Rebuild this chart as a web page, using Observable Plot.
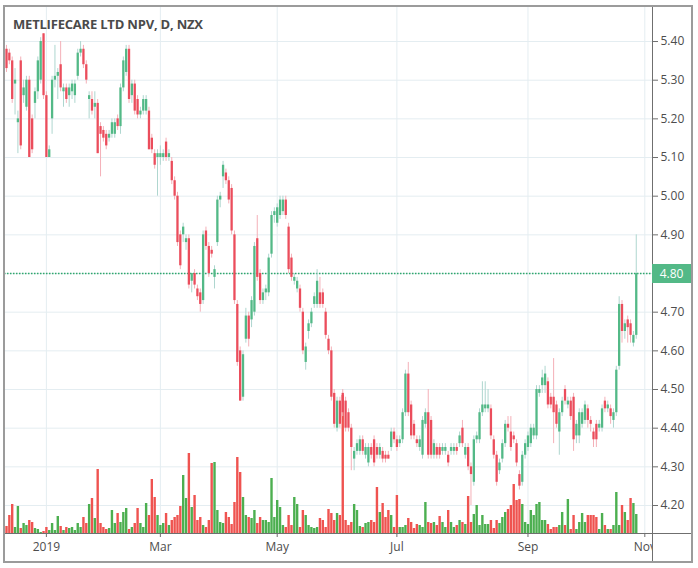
<!DOCTYPE html>
<html><head><meta charset="utf-8">
<script src="https://cdn.jsdelivr.net/npm/d3@7"></script>
<script src="https://cdn.jsdelivr.net/npm/@observablehq/plot@0.6"></script>
<style>
body{margin:0;background:#fff;}
#wrap{position:relative;width:698px;height:568px;overflow:hidden;font-family:"Open Sans",sans-serif;background:#fff;}
.layer{position:absolute;left:0;top:0;}
#title{position:absolute;left:13px;top:15px;font-weight:700;font-size:13px;color:#4a4a4a;letter-spacing:-0.2px;white-space:nowrap;}
#frame{position:absolute;left:3px;top:5px;width:686px;height:554px;border:2px solid #9b9b9b;}
#vline{position:absolute;left:652px;top:6px;width:1px;height:556px;background:#6f6f6f;}
#hline{position:absolute;left:4px;top:533px;width:688px;height:1px;background:#6f6f6f;}
#cover{position:absolute;left:653px;top:534px;width:37px;height:26px;background:#fff;}
#last{position:absolute;left:652px;width:39px;height:19px;background:#53b987;color:#fff;font-size:12px;line-height:19px;text-align:center;}
</style></head>
<body>
<div id="wrap"></div>
<script>
// OHLC per trading day (mid-Dec 2018 .. end Oct 2019), NZD
const open = [5.38,5.37,5.35,5.29,5.19,5.35,5.26,5.23,5.30,5.20, 5.24,5.27,5.30,5.42,5.26,5.10,5.20,5.30,5.31,5.34, 5.27,5.28,5.26,5.27,5.26,5.31,5.37,5.38,5.34,5.25, 5.25,5.23,5.24,5.18,5.17,5.16,5.15,5.16,5.16,5.20, 5.18,5.28,5.32,5.38,5.26,5.29,5.25,5.21,5.22,5.22, 5.22,5.15,5.11,5.10,5.10,5.10,5.14,5.10,5.09,5.04, 5.00,4.90,4.90,4.88,4.89,4.78,4.80,4.76,4.75,4.73, 4.91,4.87,4.86,4.79,4.88,4.99,5.05,5.06,5.04,5.02, 4.90,4.72,4.60,4.48,4.63,4.69,4.68,4.70,4.89,4.80, 4.73,4.75,4.75,4.85,4.95,4.93,4.95,4.96,4.99,4.92, 4.84,4.78,4.76,4.76,4.70,4.57,4.65,4.67,4.72,4.72, 4.75,4.75,4.70,4.63,4.60,4.49,4.40,4.47,4.49,4.47, 4.44,4.40,4.32,4.34,4.34,4.37,4.33,4.31,4.35,4.37, 4.35,4.33,4.34,4.33,4.33,4.35,4.39,4.37, 4.36,4.37,4.44,4.54,4.46,4.41,4.37,4.35,4.33,4.41, 4.44,4.42,4.33,4.35,4.35,4.34,4.34,4.33,4.34, 4.34,4.35,4.36,4.40,4.33,4.35,4.30,4.26,4.37,4.37, 4.44,4.45,4.45,4.45,4.37,4.33,4.29,4.32,4.36,4.41, 4.39,4.38,4.36,4.28,4.26,4.33,4.35,4.36,4.38, 4.38,4.49, 4.51,4.51,4.52,4.48,4.48,4.46,4.39,4.44,4.50,4.46, 4.47,4.48,4.38,4.38,4.41,4.42,4.45,4.42,4.39,4.41, 4.40,4.40,4.47,4.45,4.45,4.42,4.44,4.56,4.72,4.65, 4.68,4.67,4.62,4.64];
const high = [5.39,5.38,5.36,5.33,5.22,5.36,5.30,5.31,5.31,5.21, 5.28,5.36,5.41,5.42,5.27,5.13,5.31,5.39,5.33,5.40, 5.29,5.29,5.29,5.30,5.30,5.38,5.40,5.39,5.35,5.27, 5.27,5.27,5.25,5.19,5.18,5.17,5.17,5.20,5.20,5.21, 5.29,5.36,5.39,5.39,5.30,5.30,5.26,5.23,5.26,5.26, 5.23,5.16,5.12,5.12,5.13,5.12,5.15,5.12,5.10,5.05, 5.01,4.91,4.93,4.90,4.90,4.80,4.81,4.77,4.76,4.91, 4.92,4.88,4.87,4.82,5.00,5.01,5.09,5.07,5.05,5.03, 4.91,4.73,4.61,4.60,4.71,4.70,4.74,4.88,4.95,4.81, 4.76,4.77,4.85,4.96,4.97,4.98,5.00,5.00,5.00,4.93, 4.85,4.80,4.79,4.77,4.71,4.62,4.68,4.71,4.75,4.81, 4.79,4.76,4.71,4.64,4.61,4.50,4.48,4.48,4.50,4.48, 4.45,4.41,4.35,4.37,4.38,4.38,4.36,4.36,4.36,4.38, 4.36,4.36,4.35,4.34,4.34,4.40,4.40,4.38, 4.38,4.45,4.55,4.57,4.47,4.42,4.38,4.38,4.43,4.45, 4.50,4.43,4.37,4.36,4.36,4.36,4.36,4.34,4.36, 4.36,4.36,4.39,4.42,4.36,4.36,4.31,4.38,4.39,4.45, 4.52,4.52,4.50,4.46,4.38,4.34,4.32,4.37,4.42,4.43, 4.43,4.39,4.37,4.29,4.34,4.37,4.39,4.41,4.41, 4.51,4.51, 4.55,4.56,4.53,4.49,4.58,4.47,4.45,4.48,4.51,4.48, 4.48,4.49,4.42,4.45,4.45,4.47,4.46,4.43,4.40,4.42, 4.42,4.46,4.48,4.47,4.46,4.45,4.56,4.74,4.73,4.68, 4.69,4.68,4.65,4.90];
const low = [5.32,5.34,5.24,5.21,5.11,5.12,5.24,5.22,5.10,5.11, 5.20,5.25,5.29,5.25,5.10,5.10,5.16,5.28,5.25,5.27, 5.23,5.24,5.23,5.25,5.24,5.30,5.36,5.33,5.29,5.20, 5.21,5.20,5.11,5.05,5.14,5.12,5.14,5.15,5.15,5.17, 5.16,5.27,5.31,5.24,5.24,5.21,5.20,5.20,5.21,5.21, 5.12,5.11,5.07,5.00,5.08,5.09,5.09,5.09,5.03,4.99, 4.87,4.81,4.88,4.86,4.76,4.75,4.76,4.73,4.70,4.72, 4.86,4.79,4.84,4.76,4.87,4.97,5.02,5.03,4.98,4.90, 4.72,4.56,4.47,4.47,4.62,4.61,4.66,4.69,4.78,4.72, 4.72,4.73,4.74,4.84,4.93,4.92,4.94,4.95,4.94,4.80, 4.78,4.77,4.75,4.70,4.59,4.55,4.63,4.66,4.71,4.71, 4.71,4.71,4.63,4.59,4.47,4.40,4.39,4.40,4.43,4.39, 4.39,4.29,4.29,4.33,4.33,4.33,4.32,4.30,4.32,4.30, 4.32,4.32,4.31,4.31,4.32,4.34,4.36,4.34, 4.35,4.36,4.43,4.43,4.37,4.37,4.35,4.34,4.32,4.40, 4.32,4.32,4.32,4.32,4.32,4.33,4.33,4.30,4.33, 4.33,4.33,4.35,4.35,4.32,4.29,4.20,4.25,4.36,4.36, 4.43,4.44,4.44,4.37,4.32,4.25,4.28,4.31,4.35,4.39, 4.34,4.36,4.30,4.24,4.25,4.32,4.34,4.35,4.37, 4.37,4.48, 4.49,4.49,4.45,4.45,4.36,4.40,4.33,4.43,4.46,4.45, 4.42,4.34,4.36,4.36,4.40,4.41,4.40,4.39,4.35,4.35, 4.39,4.39,4.44,4.44,4.41,4.40,4.43,4.55,4.62,4.63, 4.62,4.62,4.61,4.63];
const close = [5.33,5.35,5.25,5.30,5.20,5.13,5.28,5.30,5.10,5.12, 5.27,5.35,5.40,5.26,5.10,5.12,5.30,5.31,5.32,5.28, 5.28,5.25,5.28,5.29,5.29,5.37,5.38,5.34,5.30,5.26, 5.22,5.24,5.11,5.16,5.15,5.13,5.16,5.19,5.19,5.18, 5.28,5.35,5.38,5.25,5.29,5.22,5.21,5.22,5.25,5.25, 5.12,5.12,5.08,5.11,5.11,5.11,5.10,5.11,5.04,5.00, 4.88,4.82,4.92,4.89,4.77,4.80,4.77,4.74,4.72,4.90, 4.87,4.80,4.85,4.81,4.99,5.00,5.08,5.04,4.99,4.91, 4.73,4.57,4.47,4.59,4.69,4.63,4.73,4.87,4.79,4.73, 4.75,4.76,4.84,4.95,4.96,4.97,4.99,4.99,4.95,4.81, 4.79,4.79,4.78,4.71,4.60,4.61,4.67,4.70,4.74,4.78, 4.72,4.72,4.64,4.60,4.48,4.41,4.47,4.41,4.44,4.40, 4.40,4.35,4.34,4.36,4.37,4.34,4.35,4.35,4.33,4.31, 4.33,4.35,4.32,4.32,4.32,4.39,4.37,4.35, 4.37,4.44,4.54,4.44,4.38,4.38,4.36,4.37,4.42,4.44, 4.33,4.33,4.36,4.33,4.33,4.35,4.35,4.31,4.35, 4.35,4.34,4.38,4.36,4.35,4.30,4.28,4.37,4.38,4.44, 4.46,4.46,4.46,4.38,4.33,4.26,4.31,4.36,4.41,4.40, 4.35,4.37,4.31,4.25,4.33,4.36,4.38,4.40,4.40, 4.50,4.50, 4.53,4.54,4.46,4.46,4.44,4.41,4.44,4.47,4.47,4.47, 4.43,4.37,4.41,4.44,4.44,4.46,4.42,4.41,4.37,4.37, 4.41,4.45,4.45,4.46,4.43,4.44,4.55,4.72,4.65,4.67, 4.66,4.64,4.64,4.80];
// daily volume (thousands of shares, estimated)
const volume = [7,18,29,6,27,5,10,8,13,11,5,4,1,2,6,3,10,3,17,7,3,6,5,6,3,10,6,16,10,29,35,15,64,10,6,4,5,23,10,20,11,21,25,4,6,10,25,10,6,30,18,54,36,18,8,10,20,8,13,16,18,27,58,35,80,26,38,13,16,8,6,13,70,71,23,11,10,21,16,9,31,76,61,
 36,18,16,15,23,10,16,13,13,11,55,16,33,26,8,6,18,8,36,29,6,23,18,8,6,5,6,15,13,6,24,20,13,20,18,138,13,8,11,29,23,7,6,10,11,13,11,46,21,30,16,23,18,6,38,6,6,8,15,11,5,9,8,6,31,11,10,11,8,
 17,11,6,23,11,6,8,13,11,9,37,11,19,28,8,18,9,9,13,5,13,10,16,21,24,28,49,33,34,29,11,9,23,18,29,31,
 13,13,9,4,6,6,8,21,8,34,4,18,4,11,20,11,18,18,18,16,4,20,8,4,4,8,41,8,28,21,13,35,30,19];
// time axis: bar positions of month starts and their labels
const tickIdx = [14, 54, 95, 137, 183, 224];
const tickLabels = ["2019", "Mar", "May", "Jul", "Sep", "Nov"];
const priceTicks = [4.2, 4.3, 4.4, 4.5, 4.6, 4.7, 4.8, 4.9, 5.0, 5.1, 5.2, 5.3, 5.4];

const UP = "#53b987", DOWN = "#eb4d5c";
const WICK_UP = "#aed6cf", WICK_DOWN = "#f4b0b8";
const VOL_UP = "#4caf50", VOL_DOWN = "#ef5350";

const bars = open.map((o, i) => ({i, open: o, high: high[i], low: low[i], close: close[i], volume: volume[i], up: close[i] >= o}));
const lastClose = close[close.length - 1];

const base = {
  width: 698, height: 568,
  marginLeft: 4, marginRight: 46, marginTop: 7, marginBottom: 35,
  x: {domain: [-0.70, 226.7], axis: null},
  color: {type: "identity"},
  style: {background: "transparent", fontFamily: "Open Sans, sans-serif", fontSize: "12px", color: "#4d4d4d", overflow: "visible"}
};

const gridChart = Plot.plot({
  ...base,
  y: {domain: [4.1276, 5.488], axis: null},
  marks: [
    Plot.gridY(priceTicks, {stroke: "#e4edf1", strokeOpacity: 1}),
    Plot.gridX(tickIdx, {stroke: "#e4edf1", strokeOpacity: 1}),
    Plot.axisY(priceTicks, {anchor: "right", tickFormat: d => d.toFixed(2), tickSize: 5, tickPadding: 3, stroke: "#6f6f6f", fill: "#4d4d4d"}),
    Plot.axisX(tickIdx, {tickFormat: d => tickLabels[tickIdx.indexOf(d)], tickSize: 4, tickPadding: 5, stroke: "#6f6f6f", fill: "#4d4d4d"})
  ]
});

const volChart = Plot.plot({
  ...base,
  y: {domain: [0, 526], axis: null},
  marks: [
    Plot.ruleX(bars, {x: "i", y1: 0, y2: "volume", stroke: d => d.up ? VOL_UP : VOL_DOWN, strokeWidth: 2.4})
  ]
});

const candleChart = Plot.plot({
  ...base,
  y: {domain: [4.1276, 5.488], axis: null},
  marks: [
    Plot.ruleY([lastClose], {stroke: "#2fa86d", strokeDasharray: "1.5,1.5", strokeWidth: 1.3}),
    Plot.ruleX(bars, {x: "i", y1: "low", y2: "high", stroke: d => d.up ? WICK_UP : WICK_DOWN, strokeWidth: 1}),
    Plot.ruleX(bars, {x: "i", y1: "open", y2: "close", stroke: d => d.up ? UP : DOWN, strokeWidth: 2.3})
  ]
});

const wrap = document.getElementById("wrap");
for (const c of [gridChart, volChart, candleChart]) { c.classList.add("layer"); wrap.appendChild(c); }

const add = (id, text) => { const d = document.createElement("div"); d.id = id; if (text) d.textContent = text; wrap.appendChild(d); return d; };
add("cover");
add("vline");
add("hline");
add("frame");
add("title", "METLIFECARE LTD NPV, D, NZX");
const lab = add("last", lastClose.toFixed(2));
lab.style.top = (candleChart.scale("y").apply(lastClose) - 9.5) + "px";
</script>
</body></html>
